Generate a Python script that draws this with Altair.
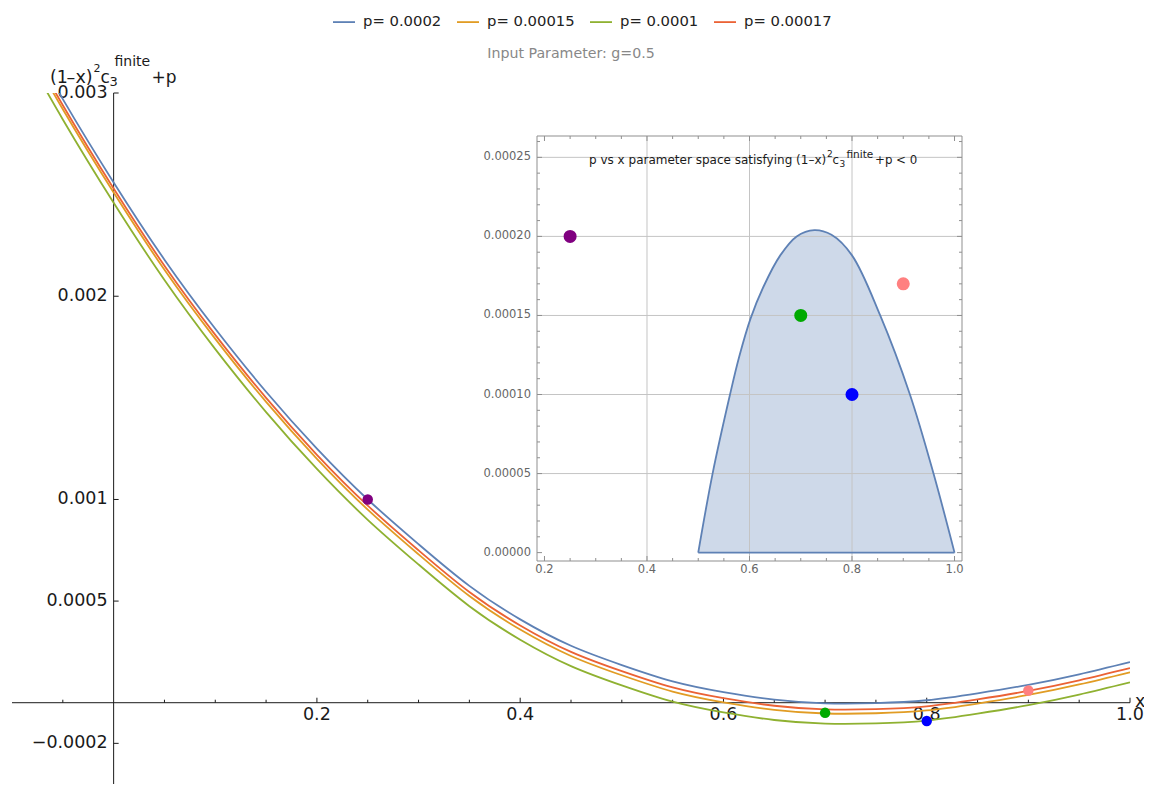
import altair as alt
import pandas as pd

FONT = "DejaVu Sans"
INK = "#1a1a1a"

# ---------------- data ----------------
x_grid = [-0.1, -0.05, 0.0, 0.05, 0.1, 0.15, 0.2, 0.25, 0.3, 0.35, 0.4, 0.45, 0.5,
          0.55, 0.6, 0.65, 0.7, 0.75, 0.8, 0.85, 0.9, 0.95, 1.0]
curve_p0002 = [0.00341, 0.00297, 0.00256, 0.00218, 0.00184, 0.00153, 0.00125, 0.001,
               0.00078, 0.000575, 0.00041, 0.00028, 0.000185, 0.000105, 0.000052, 0.000015,
               -0.000003, -0.000002, 0.000012, 0.000046, 0.000088, 0.00014, 0.0002]
curve_p00015 = [0.00336, 0.00292, 0.00251, 0.00213, 0.00179, 0.00148, 0.0012, 0.00095,
                0.00073, 0.000525, 0.00036, 0.00023, 0.000135, 0.000055, 0.000002, -0.000035,
                -0.000053, -0.000052, -0.000038, -0.000004, 0.000038, 0.00009, 0.00015]
curve_p0001 = [0.00331, 0.00287, 0.00246, 0.00208, 0.00174, 0.00143, 0.00115, 0.0009,
               0.00068, 0.000475, 0.00031, 0.00018, 0.000085, 0.000005, -0.000048, -0.000085,
               -0.000103, -0.000102, -0.000088, -0.000054, -0.000012, 0.00004, 0.0001]
curve_p00017 = [0.00338, 0.00294, 0.00253, 0.00215, 0.00181, 0.0015, 0.00122, 0.00097,
                0.00075, 0.000545, 0.00038, 0.00025, 0.000155, 0.000075, 0.000022, -0.000015,
                -0.000033, -0.000032, -0.000018, 0.000016, 0.000058, 0.00011, 0.00017]
series_labels = ["p= 0.0002", "p= 0.00015", "p= 0.0001", "p= 0.00017"]
series_colors = ["#5E81B5", "#E19C24", "#8FB131", "#EB6235"]

point_x = [0.25, 0.7, 0.8, 0.9]
point_p = [0.0002, 0.00015, 0.0001, 0.00017]
point_curve_y = [0.001, -0.00005, -0.00009, 0.00006]
point_colors = ["#800080", "#00AA00", "#0000FF", "#FF8080"]

region_x = [0.5, 0.528, 0.562, 0.58, 0.602, 0.627, 0.66, 0.692, 0.7265, 0.76, 0.8,
            0.855, 0.913, 0.959, 1.0]
region_p = [0.0, 0.00005, 0.0001, 0.000124, 0.000148, 0.000168, 0.000188, 0.0002, 0.000204,
            0.000201, 0.000188, 0.00015, 0.0001, 0.00005, 0.0]

main_x_labels = [0.2, 0.4, 0.6, 0.8, 1.0]
main_x_minor = [-0.05, 0.05, 0.1, 0.15, 0.25, 0.3, 0.35, 0.45, 0.5, 0.55, 0.65,
                0.7, 0.75, 0.85, 0.9, 0.95]
main_y_labels = [-0.0002, 0.0005, 0.001, 0.002, 0.003]
main_x_domain = [-0.1, 1.0]
main_y_domain = [-0.0004, 0.003]

inset_x_domain = [0.1854, 1.0146]
inset_y_domain = [-0.0000053, 0.0002635]
inset_x_major = [0.2, 0.4, 0.6, 0.8, 1.0]
inset_x_minor = [0.25, 0.3, 0.35, 0.45, 0.5, 0.55, 0.65, 0.7, 0.75, 0.85, 0.9, 0.95]
inset_y_major = [0.0, 0.00005, 0.0001, 0.00015, 0.0002, 0.00025]
inset_y_minor = [0.00001, 0.00002, 0.00003, 0.00004, 0.00006, 0.00007, 0.00008, 0.00009,
                 0.00011, 0.00012, 0.00013, 0.00014, 0.00016, 0.00017, 0.00018, 0.00019,
                 0.00021, 0.00022, 0.00023, 0.00024, 0.00026]
inset_grid_x = [0.4, 0.6, 0.8]
inset_grid_y = [0.00005, 0.0001, 0.00015, 0.0002, 0.00025]

# ---------------- layout ----------------
W, H = 1118, 691
MX = alt.Scale(domain=main_x_domain, nice=False, zero=False)
MY = alt.Scale(domain=main_y_domain, nice=False, zero=False)
IX = alt.Scale(domain=inset_x_domain, range=[525, 950], nice=False, zero=False)
IY = alt.Scale(domain=inset_y_domain, range=[468, 43], nice=False, zero=False)

rows = []
for lab, vals in zip(series_labels, [curve_p0002, curve_p00015, curve_p0001, curve_p00017]):
    for xv, yv in zip(x_grid, vals):
        rows.append({"x": xv, "y": yv, "series": lab})
curve_df = pd.DataFrame(rows)
main_pts = pd.DataFrame({"x": point_x, "y": point_curve_y, "c": point_colors})
inset_pts = pd.DataFrame({"x": point_x, "y": point_p, "c": point_colors})
region_df = pd.DataFrame({"x": region_x, "y": region_p})
anchor = pd.DataFrame({"k": [0]})


def X(f, s):
    return alt.X(f, scale=s, axis=None)


def Y(f, s):
    return alt.Y(f, scale=s, axis=None)


def txt(text, x, y, size, color=INK, align="left", baseline="alphabetic"):
    return alt.Chart(anchor).mark_text(
        text=text, font=FONT, fontSize=size, color=color, align=align, baseline=baseline
    ).encode(x=alt.value(x), y=alt.value(y))


def ticks(xs, ys, shape, size, sx, sy, color):
    df = pd.DataFrame({"x": xs, "y": ys})
    return alt.Chart(df).mark_point(
        shape=shape, size=size, color=color, strokeWidth=1, filled=False, opacity=1
    ).encode(x=X("x:Q", sx), y=Y("y:Q", sy))


def tick_labels(xs, ys, fmt, sx, sy, size, color, align, baseline, dx=0, dy=0):
    df = pd.DataFrame({"x": xs, "y": ys, "v": xs if baseline == "top" else ys})
    return alt.Chart(df).mark_text(
        font=FONT, fontSize=size, color=color, align=align, baseline=baseline, dx=dx, dy=dy
    ).encode(x=X("x:Q", sx), y=Y("y:Q", sy), text=alt.Text("v:Q", format=fmt))


# ---------------- main plot ----------------
axis_lines = pd.DataFrame({
    "x0": [main_x_domain[0], 0.0], "x1": [main_x_domain[1], 0.0],
    "y0": [0.0, main_y_domain[0]], "y1": [0.0, main_y_domain[1]],
})
main_axes = alt.Chart(axis_lines).mark_rule(color=INK, strokeWidth=1).encode(
    x=X("x0:Q", MX), x2="x1:Q", y=Y("y0:Q", MY), y2="y1:Q")

lines = alt.Chart(curve_df).mark_line(strokeWidth=1.8, interpolate="natural", clip=True).encode(
    x=X("x:Q", MX),
    y=Y("y:Q", MY),
    color=alt.Color("series:N", sort=series_labels,
                    scale=alt.Scale(domain=series_labels, range=series_colors),
                    legend=alt.Legend(orient="none", legendX=320, legendY=-83,
                                      direction="horizontal", title=None, labelFont=FONT,
                                      labelFontSize=14.8, labelColor="#222",
                                      symbolType="stroke", symbolSize=484,
                                      symbolStrokeWidth=1.8, columnPadding=11,
                                      labelOffset=7, padding=0)),
)

main_points = alt.Chart(main_pts).mark_circle(size=110, opacity=1).encode(
    x=X("x:Q", MX), y=Y("y:Q", MY), color=alt.Color("c:N", scale=None))

main_layers = [
    main_axes,
    tick_labels(main_x_labels, [0.0] * len(main_x_labels), ".1f", MX, MY, 17.5, INK,
                "center", "top", dy=3),
    tick_labels([0.0] * len(main_y_labels), main_y_labels, ".4~f", MX, MY, 17.5, INK,
                "right", "middle", dx=-6),
    ticks([0.0] * len(main_y_labels), main_y_labels, "M0,0H1", 100, MX, MY, INK),
    ticks(main_x_labels, [0.0] * len(main_x_labels), "M0,0V-1", 100, MX, MY, INK),
    ticks(main_x_minor, [0.0] * len(main_x_minor), "M0,0V-1", 36, MX, MY, INK),
    lines,
    main_points,
    txt("x", 1123, 614, 17.5),
    txt("(1", 38, -10.5, 17.5),
    txt("\u2013", 54.5, -10.5, 17.5),
    txt("x)", 63.5, -10.5, 17.5),
    txt("2", 81.5, -21, 11),
    txt("c", 88.5, -10.5, 17),
    txt("3", 97.5, -7.5, 13),
    txt("finite", 102.5, -27.5, 14),
    txt("+p", 139.5, -10.5, 17),
    txt("Input Parameter: g=0.5", 559, -39, 14.2, color="#888888", align="center",
        baseline="middle"),
]
main = alt.layer(*main_layers)

# ---------------- inset ----------------
grid_x_df = pd.DataFrame({"x": inset_grid_x, "y0": inset_y_domain[0], "y1": inset_y_domain[1]})
grid_y_df = pd.DataFrame({"y": inset_grid_y, "x0": inset_x_domain[0], "x1": inset_x_domain[1]})
grid_v = alt.Chart(grid_x_df).mark_rule(color="#c4c4c4", strokeWidth=1).encode(
    x=X("x:Q", IX), y=Y("y0:Q", IY), y2="y1:Q")
grid_h = alt.Chart(grid_y_df).mark_rule(color="#c4c4c4", strokeWidth=1).encode(
    y=Y("y:Q", IY), x=X("x0:Q", IX), x2="x1:Q")

area = alt.Chart(region_df).mark_area(color="#5E81B5", opacity=0.3,
                                      interpolate="catmull-rom").encode(
    x=X("x:Q", IX), y=Y("y:Q", IY), y2=alt.datum(0))
boundary = alt.Chart(region_df).mark_line(color="#5E81B5", strokeWidth=1.8,
                                          interpolate="catmull-rom").encode(
    x=X("x:Q", IX), y=Y("y:Q", IY))
base_df = pd.DataFrame({"x0": [region_x[0]], "x1": [region_x[-1]], "y": [0.0]})
base = alt.Chart(base_df).mark_rule(color="#5E81B5", strokeWidth=1.8).encode(
    x=X("x0:Q", IX), x2="x1:Q", y=Y("y:Q", IY))

frame_df = pd.DataFrame({"x0": [inset_x_domain[0]], "x1": [inset_x_domain[1]],
                         "y0": [inset_y_domain[0]], "y1": [inset_y_domain[1]]})
frame = alt.Chart(frame_df).mark_rect(fill="white", fillOpacity=0, stroke="#8f8f8f",
                                      strokeWidth=1).encode(
    x=X("x0:Q", IX), x2="x1:Q", y=Y("y0:Q", IY), y2="y1:Q")

inset_points = alt.Chart(inset_pts).mark_circle(size=170, opacity=1).encode(
    x=X("x:Q", IX), y=Y("y:Q", IY), color=alt.Color("c:N", scale=None))

TC = "#8f8f8f"
LC = "#666666"
yb, yt = inset_y_domain[0], inset_y_domain[1]
xl, xr = inset_x_domain[0], inset_x_domain[1]
inset_layers = [
    area, grid_v, grid_h, boundary, base, frame,
    tick_labels(inset_x_major, [yb] * len(inset_x_major), ".1f", IX, IY, 11.5, LC,
                "center", "top", dy=3),
    tick_labels([xl] * len(inset_y_major), inset_y_major, ".5f", IX, IY, 11.5, LC,
                "right", "middle", dx=-6),
    ticks(inset_x_major, [yb] * len(inset_x_major), "M0,0V-1", 100, IX, IY, TC),
    ticks(inset_x_minor, [yb] * len(inset_x_minor), "M0,0V-1", 36, IX, IY, TC),
    ticks(inset_x_major, [yt] * len(inset_x_major), "M0,0V1", 100, IX, IY, TC),
    ticks(inset_x_minor, [yt] * len(inset_x_minor), "M0,0V1", 36, IX, IY, TC),
    ticks([xl] * len(inset_y_major), inset_y_major, "M0,0H1", 100, IX, IY, TC),
    ticks([xl] * len(inset_y_minor), inset_y_minor, "M0,0H1", 36, IX, IY, TC),
    ticks([xr] * len(inset_y_major), inset_y_major, "M0,0H-1", 100, IX, IY, TC),
    ticks([xr] * len(inset_y_minor), inset_y_minor, "M0,0H-1", 36, IX, IY, TC),
    inset_points,
    txt("p vs x parameter space satisfying (1\u2013x)", 577, 71, 12.0),
    txt("2", 815, 64, 9),
    txt("c", 820.5, 71, 11.8),
    txt("3", 827.5, 73.5, 9),
    txt("finite", 834.5, 64.5, 10.5),
    txt("+p < 0", 863, 71, 11.8),
]
inset = alt.layer(*inset_layers)

chart = alt.layer(main, inset).resolve_scale(
    x="independent", y="independent"
).properties(
    width=W, height=H,
    padding={"left": 4, "top": 85, "right": 14, "bottom": 0},
    autosize=alt.AutoSizeParams(type="none"),
).configure_view(stroke=None)

chart.save("out.html", embed_options={"renderer": "svg", "actions": False})
